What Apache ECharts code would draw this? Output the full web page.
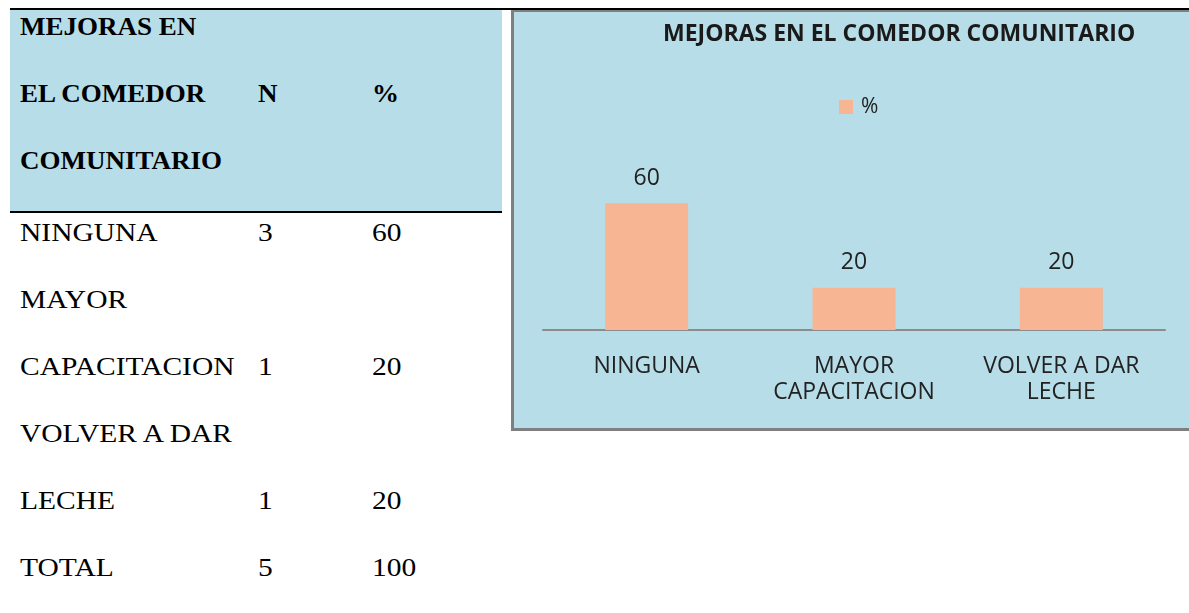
<!DOCTYPE html>
<html lang="es">
<head>
<meta charset="UTF-8">
<title>Mejoras en el comedor comunitario</title>
<script src="https://cdn.jsdelivr.net/npm/echarts@6/dist/echarts.min.js"></script>
<style>
    body { margin: 0; background: #fff; width: 1189px; height: 613px; overflow: hidden; position: relative; }
    .rule { position: absolute; background: #000; }
    #headbg { position: absolute; left: 10px; top: 10px; width: 492px; height: 201px; background: #b7dde8; }
    .cell {
        position: absolute;
        font-family: "Liberation Serif", "Times New Roman", serif;
        font-size: 25px;
        line-height: 25px;
        color: #000;
        white-space: nowrap;
        transform: scaleX(1.18);
        transform-origin: left top;
    }
    .cell.b { font-weight: bold; transform: scaleX(1.08); }
    #chart {
        position: absolute;
        left: 511px;
        top: 10px;
        width: 678px;
        height: 421px;
        box-sizing: border-box;
        border-left: 3px solid #7f7f7f;
        border-top: 2px solid #7f7f7f;
        border-bottom: 3px solid #7f7f7f;
        background: #b7dde8;
    }
</style>
</head>
<body>
<div id="headbg"></div>
<div class="rule" style="left:10px;top:8px;width:1179px;height:2px"></div>
<div class="rule" style="left:10px;top:211px;width:492px;height:2px"></div>
<div id="table"></div>
<div id="chart"></div>
<script>
    // tabla
    var headCols = ['MEJORAS EN\nEL COMEDOR\nCOMUNITARIO', 'N', '%'];
    var rowLabels = ['NINGUNA', 'MAYOR\nCAPACITACION', 'VOLVER A DAR\nLECHE', 'TOTAL'];
    var rowN = [3, 1, 1, 5];
    var rowPct = [60, 20, 20, 100];

    // grafico
    var chartTitle = 'MEJORAS EN EL COMEDOR COMUNITARIO';
    var seriesName = '%';
    var categories = ['NINGUNA', 'MAYOR\nCAPACITACION', 'VOLVER A DAR\nLECHE'];
    var percents = [60, 20, 20];

    var colX = [20, 258, 372];
    var LINE = 67;
    var box = document.getElementById('table');

    // places a text line by its baseline
    function addText(txt, x, baseline, bold) {
        var d = document.createElement('div');
        d.className = bold ? 'cell b' : 'cell';
        d.style.left = x + 'px';
        d.style.top = (baseline - 21) + 'px';
        d.textContent = txt;
        box.appendChild(d);
    }

    var headLines = headCols[0].split('\n');
    headLines.forEach(function (t, i) { addText(t, colX[0], 34.5 + i * 67, true); });
    addText(headCols[1], colX[1], 34.5 + 67, true);
    addText(headCols[2], colX[2], 34.5 + 67, true);

    var y = 241;
    rowLabels.forEach(function (lab, r) {
        var lines = lab.split('\n');
        lines.forEach(function (t, i) { addText(t, colX[0], y + i * LINE, false); });
        var last = y + (lines.length - 1) * LINE;
        addText(String(rowN[r]), colX[1], last, false);
        addText(String(rowPct[r]), colX[2], last, false);
        y += lines.length * LINE;
    });

    var myChart = echarts.init(document.getElementById('chart'));
    var txtColor = '#222';
    var option = {
        animation: false,
        title: {
            text: chartTitle,
            left: 149,
            top: 9,
            padding: 0,
            textStyle: { fontFamily: 'Open Sans', fontWeight: 'bold', fontSize: 23, lineHeight: 26, color: '#1a1a1a' }
        },
        legend: {
            data: [seriesName],
            left: 325,
            top: 83,
            padding: 0,
            icon: 'rect',
            itemWidth: 14,
            itemHeight: 14,
            textStyle: { fontFamily: 'Open Sans', fontSize: 21, lineHeight: 24, color: txtColor, padding: [0, 0, 0, 3] }
        },
        grid: { left: 29, right: 24, top: 170, bottom: 98, containLabel: false },
        xAxis: {
            type: 'category',
            data: categories,
            axisLine: { lineStyle: { color: '#8c8c8c', width: 2 } },
            axisTick: { show: false },
            axisLabel: { interval: 0, margin: 23, fontFamily: 'Open Sans', fontSize: 23, lineHeight: 26, color: txtColor }
        },
        yAxis: {
            type: 'value',
            min: 0,
            max: 70,
            show: false
        },
        series: [
            {
                name: seriesName,
                type: 'bar',
                barWidth: '40%',
                itemStyle: { color: '#f7b593' },
                label: {
                    show: true,
                    position: 'top',
                    distance: 13,
                    fontFamily: 'Open Sans',
                    fontSize: 23,
                    lineHeight: 24,
                    color: txtColor
                },
                data: percents
            }
        ]
    };
    myChart.setOption(option);
</script>
</body>
</html>
